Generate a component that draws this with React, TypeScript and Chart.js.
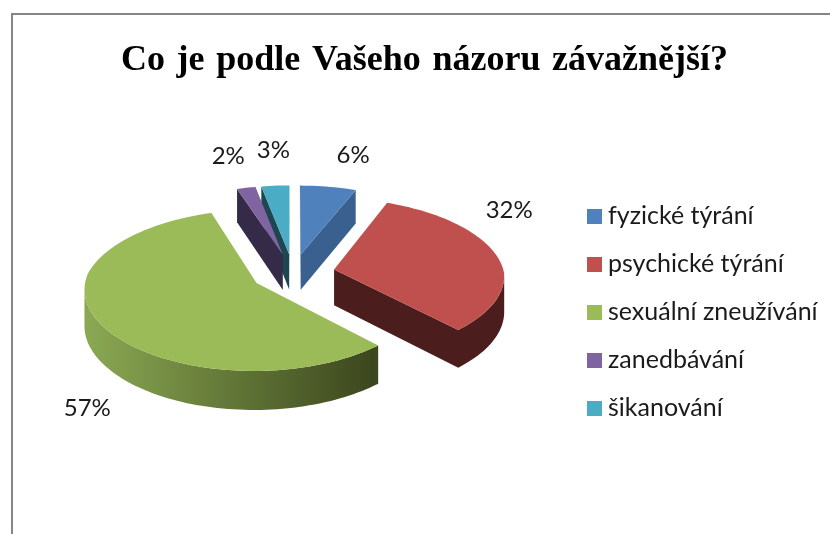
import React, { useEffect, useRef } from "react";
import { Chart, registerables } from "chart.js";

Chart.register(...registerables);

const categories = ["fyzické týrání", "psychické týrání", "sexuální zneužívání", "zanedbávání", "šikanování"];
const percents = [6, 32, 57, 2, 3];
const topColors = ["#4F81BD", "#C0504D", "#9BBB59", "#8064A2", "#4BACC6"];
const wallColors = ["#3A608F", "#4B1E1D", "#8AA852", "#352A47", "#1D4650"];
const wallGradientEnd = "#3C471E";
const paintOrder = [0, 4, 3, 1, 2];
const labelNudges = [[25, -31], [13, -45], [-15, 83], [-18, -32], [-2, -35]];

const VIEW = { cx: 293, cy: 273, R: 170, slant: 0.46, perspY: 0.00053, perspBack: 0.00062, perspFront: 0.0004, depth: 36, perspZ: 0.0004 };

function project(u: number, v: number) {
  const px = v > 0 ? VIEW.perspBack : VIEW.perspFront;
  return {
    x: VIEW.cx + u / (1 + px * v),
    y: VIEW.cy - (VIEW.slant * v) / (1 + VIEW.perspY * v),
    d: VIEW.depth / (1 + VIEW.perspZ * v),
  };
}

function slicePoints(el: any) {
  const a0 = el.startAngle + Math.PI / 2;
  const a1 = el.endAngle + Math.PI / 2;
  const mid = (a0 + a1) / 2;
  const off = el.options.offset;
  const ou = Math.sin(mid) * off;
  const ov = Math.cos(mid) * off;
  const pts = [project(ou, ov)];
  const n = Math.max(3, Math.ceil((a1 - a0) / 0.03));
  for (let i = 0; i <= n; i++) {
    const a = a0 + ((a1 - a0) * i) / n;
    pts.push(project(ou + Math.sin(a) * VIEW.R, ov + Math.cos(a) * VIEW.R));
  }
  const rim = project(ou + Math.sin(mid) * VIEW.R, ov + Math.cos(mid) * VIEW.R);
  return { pts, rim };
}

function fillWallRun(ctx: any, run: any[]) {
  if (run.length < 2) return;
  ctx.beginPath();
  run.forEach((p, k) => (k ? ctx.lineTo(p.x, p.y) : ctx.moveTo(p.x, p.y)));
  for (let k = run.length - 1; k >= 0; k--) ctx.lineTo(run[k].x, run[k].y + run[k].d);
  ctx.closePath();
  ctx.fill();
}

const pie3d = {
  id: "pie3d",
  beforeDraw(chart: any) {
    const { ctx } = chart;
    ctx.save();
    ctx.strokeStyle = "#868686";
    ctx.lineWidth = 2;
    ctx.beginPath();
    ctx.moveTo(12, 534);
    ctx.lineTo(12, 14);
    ctx.lineTo(830, 14);
    ctx.stroke();
    ctx.restore();
  },
  afterLayout(chart: any) {
    const lg = chart.legend;
    const w = lg.width;
    const h = lg.height;
    lg.left = 569.5;
    lg.right = lg.left + w;
    lg.top = 312 - h / 2;
    lg.bottom = lg.top + h;
  },
  beforeDatasetsDraw(chart: any) {
    const { ctx } = chart;
    const meta = chart.getDatasetMeta(0);
    ctx.save();
    paintOrder.forEach((i) => {
      const { pts } = slicePoints(meta.data[i]);
      let wall: any = wallColors[i];
      if (i === 2) {
        wall = ctx.createLinearGradient(88, 0, 372, 0);
        wall.addColorStop(0, wallColors[i]);
        wall.addColorStop(1, wallGradientEnd);
      }
      ctx.fillStyle = wall;
      let run: any[] = [];
      for (let k = 0; k < pts.length; k++) {
        const p = pts[k];
        const q = pts[(k + 1) % pts.length];
        if (q.x < p.x) {
          if (!run.length) run.push(p);
          run.push(q);
        } else {
          fillWallRun(ctx, run);
          run = [];
        }
      }
      fillWallRun(ctx, run);
      ctx.fillStyle = topColors[i];
      ctx.beginPath();
      pts.forEach((p, k) => (k ? ctx.lineTo(p.x, p.y) : ctx.moveTo(p.x, p.y)));
      ctx.closePath();
      ctx.fill();
    });
    ctx.fillStyle = "#1a1a1a";
    ctx.font = "24px Lato";
    ctx.textAlign = "center";
    ctx.textBaseline = "middle";
    meta.data.forEach((el: any, i: number) => {
      const { rim } = slicePoints(el);
      ctx.fillText(percents[i] + "%", rim.x + labelNudges[i][0], rim.y + labelNudges[i][1]);
    });
    ctx.restore();
    return false;
  },
};

const titleSpacing = {
  id: "titleSpacing",
  beforeDraw(chart: any) {
    const t = chart.titleBlock;
    const orig = t.draw;
    if (!t.__wrapped) {
      t.__wrapped = true;
      t.draw = function () {
        chart.ctx.wordSpacing = "2.7px";
        orig.call(t);
        chart.ctx.wordSpacing = "0px";
      };
    }
  },
};

function swatch(color: string) {
  const c = document.createElement("canvas");
  c.width = 15;
  c.height = 15;
  const g = c.getContext("2d")!;
  g.fillStyle = color;
  g.fillRect(0, 0, 15, 15);
  return c;
}

export default function App() {
  const ref = useRef<HTMLCanvasElement>(null);
  useEffect(() => {
    document.body.style.margin = "0";
    const chart = new Chart(ref.current!, {
      type: "pie",
      data: {
        labels: categories,
        datasets: [{ data: percents, backgroundColor: topColors, borderWidth: 0, offset: 42 }],
      },
      plugins: [pie3d, titleSpacing],
      options: {
        responsive: false,
        animation: false,
        layout: { padding: { left: 19, right: 0 } },
        plugins: {
          tooltip: { enabled: false },
          title: {
            display: true,
            text: "Co je podle Vašeho názoru závažnější?",
            color: "#000",
            font: { family: "'Liberation Serif'", size: 36, weight: "bold" },
            padding: { top: 39, bottom: 10 },
          },
          legend: {
            position: "right",
            align: "center",
            labels: {
              color: "#1a1a1a",
              font: { family: "Lato", size: 25 },
              usePointStyle: true,
              pointStyleWidth: 3,
              padding: 23,
              generateLabels(c: any) {
                const items = (Chart as any).overrides.pie.plugins.legend.labels.generateLabels(c);
                return items.map((it: any, i: number) => ({ ...it, pointStyle: swatch(topColors[i]) }));
              },
            },
          },
        },
      },
    } as any);
    return () => chart.destroy();
  }, []);
  return <canvas ref={ref} width={830} height={534} style={{ display: "block" }} />;
}
